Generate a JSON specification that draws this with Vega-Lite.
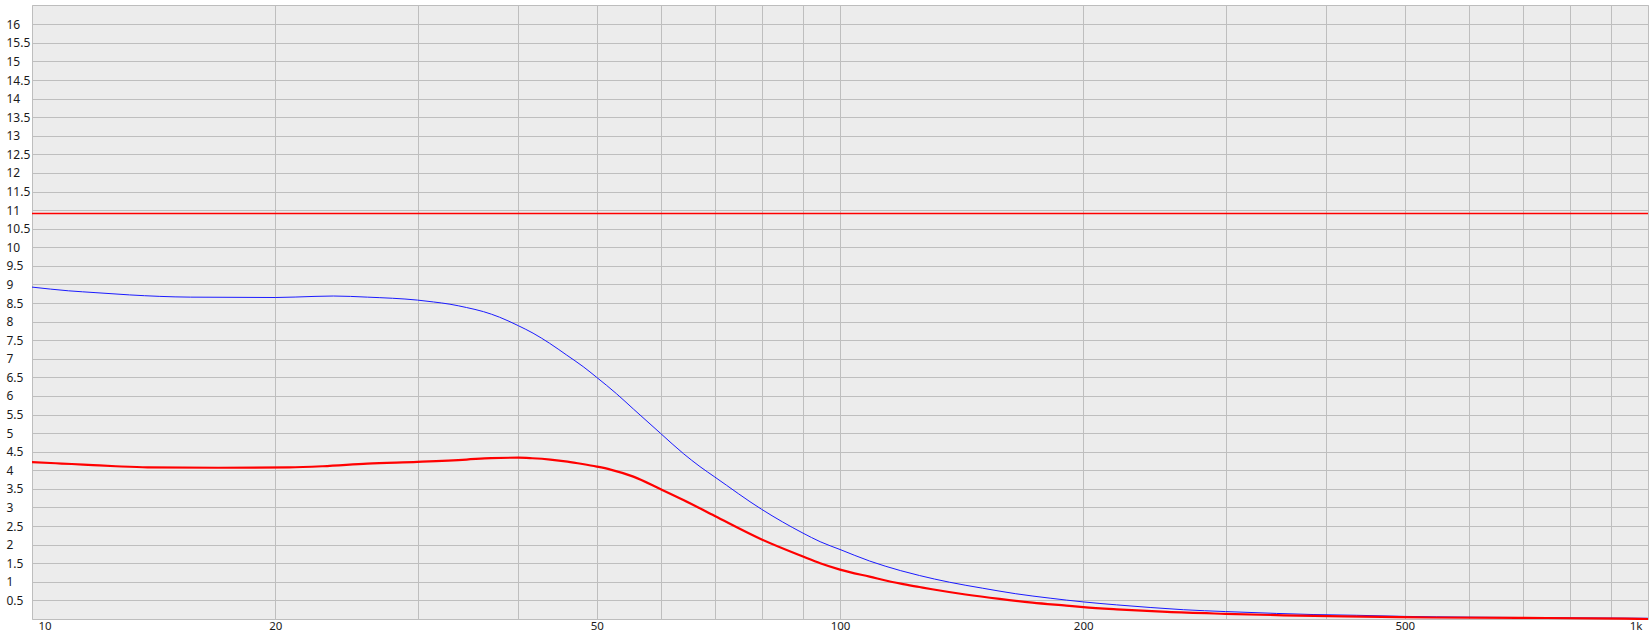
{
  "$schema": "https://vega.github.io/schema/vega-lite/v6.json",
  "autosize": {"type": "none"},
  "width": 1616,
  "height": 614,
  "padding": {"top": 5, "left": 32, "right": 3, "bottom": 12},
  "background": "white",
  "config": {
    "font": "Noto Sans",
    "view": {"fill": "#ececec", "stroke": "#bdbdbd", "strokeWidth": 1},
    "axis": {
      "labelFont": "Noto Sans",
      "labelFontSize": 11.5,
      "labelColor": "#1a1a1a",
      "gridColor": "#bebebe",
      "gridOpacity": 1,
      "gridWidth": 1,
      "ticks": false,
      "domain": false,
      "labelOverlap": false,
      "title": null
    },
    "axisY": {"labelFontSize": 12}
  },
  "datasets": {
    "curves": [
      {"f": 10, "v": 8.93, "series": "blue"},
      {"f": 11.1, "v": 8.83, "series": "blue"},
      {"f": 12, "v": 8.78, "series": "blue"},
      {"f": 13.2, "v": 8.72, "series": "blue"},
      {"f": 15.7, "v": 8.66, "series": "blue"},
      {"f": 20, "v": 8.65, "series": "blue"},
      {"f": 22.4, "v": 8.68, "series": "blue"},
      {"f": 23.6, "v": 8.69, "series": "blue"},
      {"f": 26, "v": 8.66, "series": "blue"},
      {"f": 30, "v": 8.58, "series": "blue"},
      {"f": 31.4, "v": 8.53, "series": "blue"},
      {"f": 32.9, "v": 8.47, "series": "blue"},
      {"f": 34.5, "v": 8.38, "series": "blue"},
      {"f": 36.2, "v": 8.27, "series": "blue"},
      {"f": 37.9, "v": 8.12, "series": "blue"},
      {"f": 40, "v": 7.89, "series": "blue"},
      {"f": 41.7, "v": 7.69, "series": "blue"},
      {"f": 43.7, "v": 7.42, "series": "blue"},
      {"f": 45.9, "v": 7.1, "series": "blue"},
      {"f": 48.1, "v": 6.79, "series": "blue"},
      {"f": 50, "v": 6.5, "series": "blue"},
      {"f": 52.9, "v": 6.06, "series": "blue"},
      {"f": 55.5, "v": 5.65, "series": "blue"},
      {"f": 60, "v": 4.99, "series": "blue"},
      {"f": 64, "v": 4.45, "series": "blue"},
      {"f": 67.1, "v": 4.1, "series": "blue"},
      {"f": 70, "v": 3.82, "series": "blue"},
      {"f": 80, "v": 2.95, "series": "blue"},
      {"f": 90, "v": 2.31, "series": "blue"},
      {"f": 94.5, "v": 2.08, "series": "blue"},
      {"f": 100, "v": 1.87, "series": "blue"},
      {"f": 108.8, "v": 1.56, "series": "blue"},
      {"f": 118.9, "v": 1.3, "series": "blue"},
      {"f": 125.4, "v": 1.17, "series": "blue"},
      {"f": 136.6, "v": 0.99, "series": "blue"},
      {"f": 150, "v": 0.83, "series": "blue"},
      {"f": 165, "v": 0.68, "series": "blue"},
      {"f": 182, "v": 0.56, "series": "blue"},
      {"f": 200, "v": 0.46, "series": "blue"},
      {"f": 220, "v": 0.38, "series": "blue"},
      {"f": 242, "v": 0.31, "series": "blue"},
      {"f": 266, "v": 0.25, "series": "blue"},
      {"f": 300, "v": 0.2, "series": "blue"},
      {"f": 347, "v": 0.15, "series": "blue"},
      {"f": 385, "v": 0.12, "series": "blue"},
      {"f": 436, "v": 0.1, "series": "blue"},
      {"f": 500, "v": 0.07, "series": "blue"},
      {"f": 600, "v": 0.05, "series": "blue"},
      {"f": 800, "v": 0.03, "series": "blue"},
      {"f": 1000, "v": 0.02, "series": "blue"},
      {"f": 10, "v": 4.22, "series": "red"},
      {"f": 10.7, "v": 4.19, "series": "red"},
      {"f": 11.2, "v": 4.17, "series": "red"},
      {"f": 11.9, "v": 4.14, "series": "red"},
      {"f": 12.7, "v": 4.11, "series": "red"},
      {"f": 13.9, "v": 4.08, "series": "red"},
      {"f": 17, "v": 4.07, "series": "red"},
      {"f": 20.8, "v": 4.08, "series": "red"},
      {"f": 22.9, "v": 4.11, "series": "red"},
      {"f": 26, "v": 4.18, "series": "red"},
      {"f": 30, "v": 4.23, "series": "red"},
      {"f": 34.5, "v": 4.29, "series": "red"},
      {"f": 37, "v": 4.33, "series": "red"},
      {"f": 40, "v": 4.34, "series": "red"},
      {"f": 41.6, "v": 4.325, "series": "red"},
      {"f": 43.8, "v": 4.29, "series": "red"},
      {"f": 46, "v": 4.235, "series": "red"},
      {"f": 48, "v": 4.17, "series": "red"},
      {"f": 50, "v": 4.1, "series": "red"},
      {"f": 52, "v": 4.02, "series": "red"},
      {"f": 55.5, "v": 3.83, "series": "red"},
      {"f": 60, "v": 3.49, "series": "red"},
      {"f": 64, "v": 3.2, "series": "red"},
      {"f": 70, "v": 2.77, "series": "red"},
      {"f": 80, "v": 2.14, "series": "red"},
      {"f": 90, "v": 1.68, "series": "red"},
      {"f": 94.5, "v": 1.5, "series": "red"},
      {"f": 100, "v": 1.33, "series": "red"},
      {"f": 108.8, "v": 1.14, "series": "red"},
      {"f": 118.9, "v": 0.95, "series": "red"},
      {"f": 125.4, "v": 0.86, "series": "red"},
      {"f": 130, "v": 0.8, "series": "red"},
      {"f": 143, "v": 0.66, "series": "red"},
      {"f": 157.6, "v": 0.54, "series": "red"},
      {"f": 173, "v": 0.44, "series": "red"},
      {"f": 190.6, "v": 0.36, "series": "red"},
      {"f": 200, "v": 0.32, "series": "red"},
      {"f": 220, "v": 0.26, "series": "red"},
      {"f": 254, "v": 0.19, "series": "red"},
      {"f": 300, "v": 0.14, "series": "red"},
      {"f": 354, "v": 0.1, "series": "red"},
      {"f": 421, "v": 0.07, "series": "red"},
      {"f": 493, "v": 0.05, "series": "red"},
      {"f": 542, "v": 0.04, "series": "red"},
      {"f": 700, "v": 0.03, "series": "red"},
      {"f": 936, "v": 0.01, "series": "red"},
      {"f": 1000, "v": 0.0, "series": "red"}
    ],
    "limit": [{"v": 10.91}]
  },
  "layer": [
    {
      "data": {"name": "limit"},
      "mark": {"type": "rule", "color": "#ff0000", "strokeWidth": 1.3},
      "encoding": {
        "y": {
          "field": "v",
          "type": "quantitative",
          "scale": {"domain": [0, 16.52], "nice": false, "zero": false},
          "axis": {
            "values": [0.5, 1, 1.5, 2, 2.5, 3, 3.5, 4, 4.5, 5, 5.5, 6, 6.5, 7, 7.5, 8, 8.5, 9, 9.5, 10, 10.5, 11, 11.5, 12, 12.5, 13, 13.5, 14, 14.5, 15, 15.5, 16],
            "tickCount": 100,
            "labelAlign": "left",
            "labelPadding": 26,
            "labelExpr": "'' + datum.value",
            "grid": true
          }
        }
      }
    },
    {
      "data": {"name": "curves"},
      "transform": [{"filter": "datum.series === 'blue'"}],
      "mark": {"type": "line", "color": "#1a1aff", "strokeWidth": 1, "interpolate": "monotone"},
      "encoding": {
        "x": {
          "field": "f",
          "type": "quantitative",
          "scale": {"type": "log", "domain": [10, 1000], "nice": false},
          "axis": {
            "values": [10, 20, 30, 40, 50, 60, 70, 80, 90, 100, 200, 300, 400, 500, 600, 700, 800, 900, 1000],
            "tickCount": 100,
            "grid": true,
            "labelPadding": 1,
            "labelFlush": true,
            "labelFlushOffset": -6,
            "labelBound": false,
            "labelExpr": "datum.value == 1000 ? '1k' : (indexof([10, 20, 50, 100, 200, 500], datum.value) >= 0 ? '' + datum.value : '')"
          }
        },
        "y": {"field": "v", "type": "quantitative"}
      }
    },
    {
      "data": {"name": "curves"},
      "transform": [{"filter": "datum.series === 'red'"}],
      "mark": {"type": "line", "color": "#ff0000", "strokeWidth": 2.2, "interpolate": "monotone"},
      "encoding": {
        "x": {"field": "f", "type": "quantitative"},
        "y": {"field": "v", "type": "quantitative"}
      }
    }
  ]
}
